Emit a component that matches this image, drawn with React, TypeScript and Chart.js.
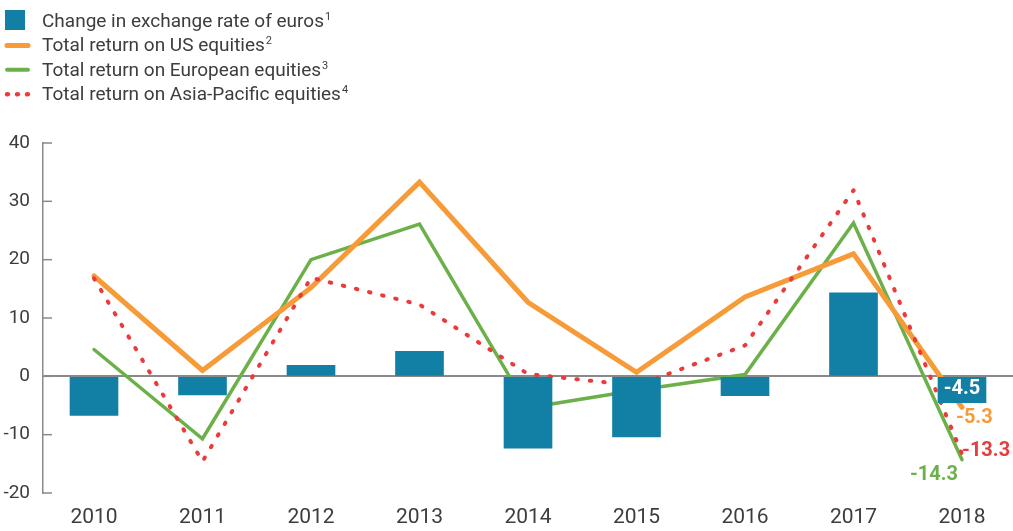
import { useEffect, useRef } from 'react';
import { Chart, registerables } from 'chart.js';

Chart.register(...registerables);

const years = ['2010', '2011', '2012', '2013', '2014', '2015', '2016', '2017', '2018'];
const euroFx = [-6.7, -3.2, 1.9, 4.3, -12.3, -10.4, -3.3, 14.3, -4.5];
const usEquities = [17.2, 1.0, 15.2, 33.3, 12.7, 0.7, 13.6, 21.0, -5.3];
const euEquities = [4.6, -10.7, 20.0, 26.1, -5.4, -2.4, 0.3, 26.3, -14.3];
const apEquities = [16.8, -14.6, 16.9, 12.3, 0.4, -1.6, 5.3, 31.9, -13.3];
const yTicks = [-20, -10, 0, 10, 20, 30, 40];
const legendLabels = [
  'Change in exchange rate of euros',
  'Total return on US equities',
  'Total return on European equities',
  'Total return on Asia-Pacific equities',
];
const legendNotes = ['1', '2', '3', '4'];

const BLUE = '#127fa5';
const ORANGE = '#f79a38';
const GREEN = '#6cb04a';
const RED = '#ea3a3c';
const AXIS = '#8a8a8a';
const TEXT = '#3d3d3d';
const FONT = 'Roboto, "Noto Sans", sans-serif';

const toPoints = (vals: number[]) => vals.map((v, i) => ({ x: i, y: v }));

const decorPlugin = {
  id: 'decor',
  afterDraw(chart: any) {
    const ctx = chart.ctx as CanvasRenderingContext2D;
    const ys = chart.scales.y;
    const xs = chart.scales.x;
    ctx.save();
    // inward y tick marks
    ctx.strokeStyle = AXIS;
    ctx.lineWidth = 1.5;
    yTicks.forEach((v) => {
      const py = ys.getPixelForValue(v);
      ctx.beginPath();
      ctx.moveTo(ys.right, py);
      ctx.lineTo(ys.right + 9, py);
      ctx.stroke();
    });

    // legend
    const colors = [BLUE, ORANGE, GREEN, RED];
    legendLabels.forEach((label, i) => {
      const base = 27 + i * 24.4;
      const mid = base - 7;
      if (i === 0) {
        ctx.fillStyle = BLUE;
        ctx.fillRect(5, 10, 20, 20);
      } else if (i === 3) {
        ctx.fillStyle = RED;
        [7.5, 17.5, 27.5].forEach((cx) => {
          ctx.beginPath();
          ctx.ellipse(cx, mid + 1, 2.6, 2.3, 0, 0, Math.PI * 2);
          ctx.fill();
        });
      } else {
        ctx.strokeStyle = colors[i];
        ctx.lineWidth = i === 1 ? 5 : 4;
        ctx.lineCap = 'round';
        ctx.beginPath();
        ctx.moveTo(7, mid + 1);
        ctx.lineTo(28, mid + 1);
        ctx.stroke();
      }
      ctx.fillStyle = TEXT;
      ctx.textAlign = 'left';
      ctx.textBaseline = 'alphabetic';
      ctx.font = `19px ${FONT}`;
      ctx.fillText(label, 42, base);
      const w = ctx.measureText(label).width;
      ctx.font = `11px ${FONT}`;
      ctx.fillText(legendNotes[i], 42 + w + 1, base - 7);
    });

    // end labels for 2018
    const last = years.length - 1;
    const px = xs.getPixelForValue(last);
    ctx.font = `bold 20px ${FONT}`;
    ctx.textBaseline = 'middle';
    const barTop = ys.getPixelForValue(0);
    const barBot = ys.getPixelForValue(euroFx[last]);
    ctx.fillStyle = '#ffffff';
    ctx.textAlign = 'center';
    ctx.fillText(euroFx[last].toFixed(1), px, (barTop + barBot) / 2);
    ctx.fillStyle = ORANGE;
    ctx.textAlign = 'left';
    ctx.fillText(usEquities[last].toFixed(1), px - 6, ys.getPixelForValue(usEquities[last]) + 11);
    ctx.fillStyle = RED;
    ctx.fillText(apEquities[last].toFixed(1), px, ys.getPixelForValue(apEquities[last]) - 3);
    ctx.fillStyle = GREEN;
    ctx.textAlign = 'center';
    ctx.fillText(euEquities[last].toFixed(1), px - 28, ys.getPixelForValue(euEquities[last]) + 15);
    ctx.restore();
  },
};

export default function App() {
  const ref = useRef<HTMLCanvasElement | null>(null);
  useEffect(() => {
    if (!ref.current) return;
    const chart = new Chart(ref.current, {
      type: 'bar',
      data: {
        datasets: [
          {
            type: 'bar',
            label: legendLabels[0],
            data: toPoints(euroFx),
            backgroundColor: BLUE,
            barThickness: 48,
            order: 0,
          },
          {
            type: 'line',
            label: legendLabels[3],
            data: toPoints(apEquities),
            borderColor: RED,
            borderWidth: 4,
            borderDash: [1.5, 12],
            borderCapStyle: 'round',
            borderJoinStyle: 'round',
            pointRadius: 0,
            tension: 0,
            order: 1,
          },
          {
            type: 'line',
            label: legendLabels[1],
            data: toPoints(usEquities),
            borderColor: ORANGE,
            borderWidth: 5,
            borderCapStyle: 'round',
            borderJoinStyle: 'miter',
            pointRadius: 0,
            tension: 0,
            order: 2,
          },
          {
            type: 'line',
            label: legendLabels[2],
            data: toPoints(euEquities),
            borderColor: GREEN,
            borderWidth: 3.5,
            borderCapStyle: 'round',
            borderJoinStyle: 'miter',
            pointRadius: 0,
            tension: 0,
            order: 3,
          },
        ] as any,
      },
      options: {
        animation: false,
        responsive: true,
        maintainAspectRatio: false,
        layout: { padding: { top: 143, bottom: 0, left: 0, right: 0 } },
        plugins: { legend: { display: false }, tooltip: { enabled: false } },
        scales: {
          x: {
            type: 'linear',
            offset: false,
            min: -0.47,
            max: 8.47,
            grid: { display: false, drawTicks: false, offset: false },
            border: { display: false },
            afterFit: (scale: any) => {
              scale.height = 38;
            },
            afterBuildTicks: (axis: any) => {
              axis.ticks = years.map((_, i) => ({ value: i }));
            },
            ticks: {
              color: TEXT,
              font: { family: FONT, size: 21 },
              padding: 12,
              maxRotation: 0,
              autoSkip: false,
              callback: (v: any) => years[Number(v)] ?? '',
            },
          },
          y: {
            min: -20,
            max: 40,
            afterFit: (scale: any) => {
              scale.width = 43;
            },
            afterBuildTicks: (axis: any) => {
              axis.ticks = yTicks.map((v) => ({ value: v }));
            },
            grid: {
              drawTicks: false,
              color: (c: any) => (c.tick && c.tick.value === 0 ? AXIS : 'rgba(0,0,0,0)'),
              lineWidth: 2,
            },
            border: { display: true, color: AXIS, width: 1.5 },
            ticks: {
              color: TEXT,
              font: { family: FONT, size: 19 },
              padding: 13,
              callback: (v: any) => String(v),
            },
          },
        },
      } as any,
      plugins: [decorPlugin],
    });
    return () => chart.destroy();
  }, []);
  return (
    <div style={{ position: 'fixed', left: 0, top: 0, width: 1013, height: 531 }}>
      <canvas ref={ref} />
    </div>
  );
}
